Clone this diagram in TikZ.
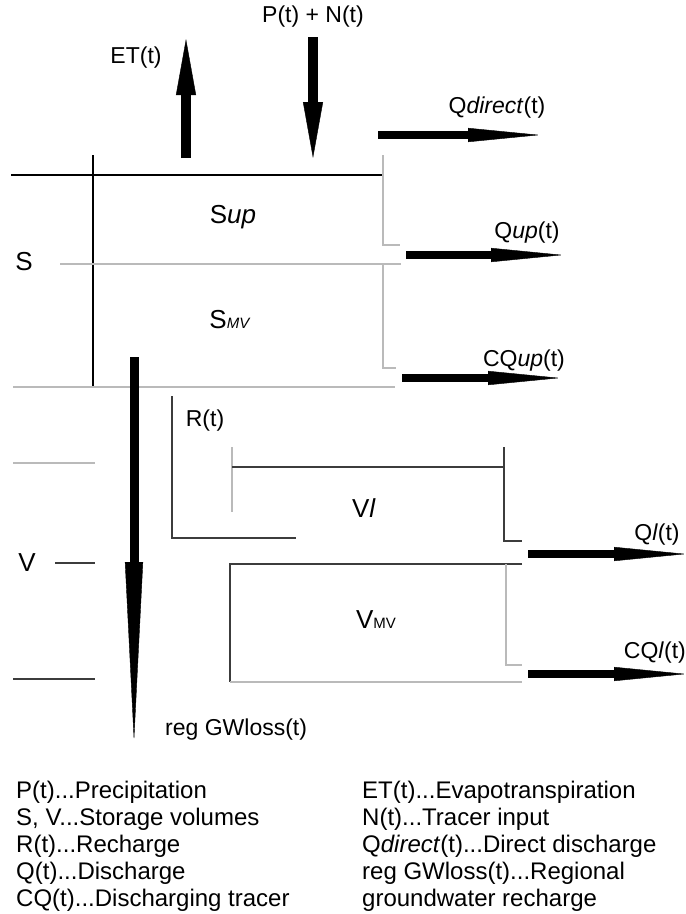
\documentclass[tikz,border=0pt]{standalone}
\usepackage{fontspec}
\setmainfont{Liberation Sans}
\usepackage{tikz}
\usetikzlibrary{arrows.meta}
\definecolor{wallDark}{HTML}{3C3C3C}
\definecolor{wallGrey}{HTML}{BABABA}
\tikzset{
  wall/.style={line width=1.3pt, draw=black},
  walldark/.style={line width=1.4pt, draw=wallDark},
  wallgrey/.style={line width=1.6pt, draw=wallGrey},
  fluxh/.style={line width=8pt, -{Triangle[length=72pt, width=14pt, line width=0.4pt]}},
  fluxv/.style={line width=10.5pt, -{Triangle[length=56pt, width=20pt, line width=0.4pt]}},
  fluxloss/.style={line width=9pt, -{Triangle[length=180pt, width=18pt, line width=0.4pt]}},
  lbl/.style={font=\fontsize{23}{27}\selectfont, inner sep=0pt},
  storelbl/.style={font=\fontsize{26}{30}\selectfont, inner sep=0pt},
  legend/.style={font=\fontsize{24}{27}\selectfont, inner sep=0pt, align=left, anchor=north west}
}
\newcommand{\subsc}[1]{{\fontsize{15}{15}\selectfont #1}}

\begin{document}
\begin{tikzpicture}[x=1pt, y=-1pt]
\useasboundingbox (0,0) rectangle (686,914);
% store S
\draw[wall] (11,175) -- (383,175);
\draw[wall] (93,155) -- (93,386);
\draw[wallgrey] (383,155) -- (383,245) -- (400,245);
\draw[wallgrey] (60,264) -- (401,264);
\draw[wallgrey] (383,264) -- (383,368) -- (396,368);
\draw[wallgrey] (13,387) -- (395,387);
% store V
\draw[walldark] (172,396) -- (172,538) -- (296,538);
\draw[wallgrey] (232,447) -- (232,512);
\draw[walldark] (232,467) -- (504,467);
\draw[walldark] (504,447) -- (504,541) -- (522,541);
\draw[walldark] (522,564) -- (230,564) -- (230,682);
\draw[wallgrey] (230,682) -- (522,682);
\draw[wallgrey] (506,564) -- (506,665) -- (522,665);
\draw[wallgrey] (13,463) -- (95,463);
\draw[walldark] (55,563) -- (95,563);
\draw[walldark] (13,679) -- (95,679);

% flux end points
\coordinate (etS) at (186,158);  \coordinate (etE) at (186,39);
\coordinate (pnS) at (313,37);   \coordinate (pnE) at (313,158);
\coordinate (qdS) at (378,135);  \coordinate (qdE) at (540,135);
\coordinate (quS) at (406,255);  \coordinate (quE) at (563,255);
\coordinate (cquS) at (402,378); \coordinate (cquE) at (560,378);
\coordinate (gwS) at (134,357);  \coordinate (gwE) at (134,742);
\coordinate (qlS) at (528,554);  \coordinate (qlE) at (686,554);
\coordinate (cqlS) at (528,674); \coordinate (cqlE) at (686,674);

\draw[fluxv] (etS) -- (etE);
\draw[fluxv] (pnS) -- (pnE);
\draw[fluxh] (qdS) -- (qdE);
\draw[fluxh] (quS) -- (quE);
\draw[fluxh] (cquS) -- (cquE);
\draw[fluxloss] (gwS) -- (gwE);
\draw[fluxh] (qlS) -- (qlE);
\draw[fluxh] (cqlS) -- (cqlE);

% labels
\node[lbl] (pn) at (313,17) {P(t) + N(t)};
\node[lbl] (et) at (136,58) {ET(t)};
\node[lbl] (qd) at (497,108) {Q\textit{direct}(t)};
\node[lbl] (qu) at (527,233) {Q\textit{up}(t)};
\node[lbl] (cqu) at (524,361) {CQ\textit{up}(t)};
\node[lbl] (rt) at (205,421) {R(t)};
\node[lbl] (ql) at (657,535) {Q\textit{l}(t)};
\node[lbl, anchor=east] (cql) at (686,653) {CQ\textit{l}(t)};
\node[lbl, anchor=base west] (gw) at (165,735) {reg GWloss(t)};
\node[storelbl] (s) at (24,262) {S};
\node[storelbl] (v) at (27,563) {V};
\node[storelbl] (sup) at (233,217) {S\textit{up}};
\node[storelbl] (smv) at (230,320) {S\subsc{\textit{MV}}};
\node[storelbl] (vl) at (364,508) {V\textit{l}};
\node[storelbl] (vmv) at (376,620) {V\subsc{MV}};

% legend
\node[legend] (legL) at (16,781) {P(t)...Precipitation\\S, V...Storage volumes\\R(t)...Recharge\\Q(t)...Discharge\\CQ(t)...Discharging tracer};
\node[legend] (legR) at (362,781) {ET(t)...Evapotranspiration\\N(t)...Tracer input\\Q\textit{direct}(t)...Direct discharge\\reg GWloss(t)...Regional\\groundwater recharge};
\end{tikzpicture}
\end{document}
